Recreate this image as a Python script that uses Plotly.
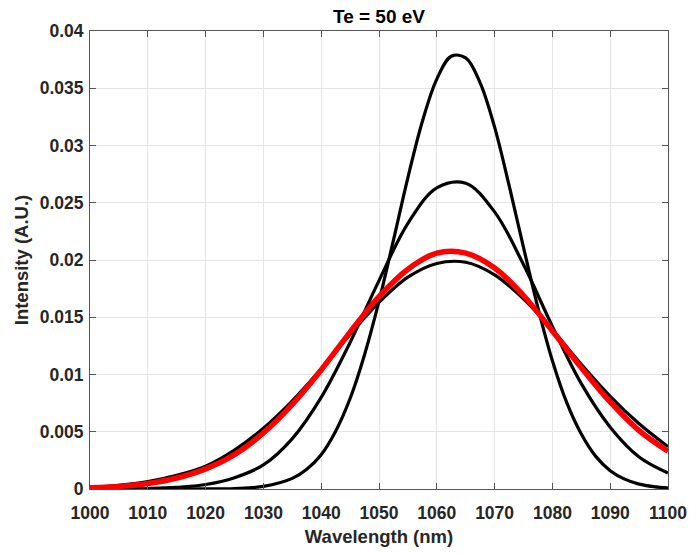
import plotly.graph_objects as go

wavelength = [1000, 1005, 1010, 1015, 1020, 1025, 1030, 1035, 1040, 1045, 1050,
              1055, 1060, 1065, 1070, 1075, 1080, 1085, 1090, 1095, 1100]

wavelength_fine = [1000, 1010, 1020, 1025, 1030, 1035, 1037.5, 1040, 1042.5, 1045, 1047.5,
                   1050, 1052.5, 1055, 1057.5, 1060, 1062.5, 1065, 1067.5, 1070, 1072.5,
                   1075, 1077.5, 1080, 1082.5, 1085, 1087.5, 1090, 1092.5, 1095, 1097.5, 1100]
curve_narrow = [0.0, 0.0, 0.000007, 0.000044, 0.00023, 0.00093, 0.00173, 0.0030, 0.00505, 0.0079, 0.01173,
                0.0164, 0.02173, 0.0272, 0.0321, 0.0358, 0.03779, 0.03766, 0.03547, 0.0316, 0.02653,
                0.0211, 0.01582, 0.0112, 0.00752, 0.0048, 0.00285, 0.0016, 0.00086, 0.00043, 0.00021, 0.00009]

curve_mid = [0.000003, 0.000013, 0.000044, 0.00014, 0.00039, 0.00099, 0.0021, 0.0044, 0.0080, 0.0128, 0.0182,
             0.0232, 0.0263, 0.0267, 0.0242, 0.0196, 0.0142, 0.0092, 0.0054, 0.0028, 0.0014]
curve_wide = [0.00015, 0.00032, 0.00064, 0.00119, 0.0020, 0.0034, 0.0053, 0.0077, 0.0105, 0.0135, 0.0163,
              0.0185, 0.0197, 0.0198, 0.0187, 0.0166, 0.0139, 0.0109, 0.0081, 0.0057, 0.0037]
curve_red = [0.00010, 0.00023, 0.00048, 0.00096, 0.00176, 0.0030, 0.0049, 0.0074, 0.0104, 0.0137, 0.0168,
             0.0192, 0.0206, 0.0206, 0.0193, 0.0169, 0.0138, 0.0106, 0.0076, 0.0051, 0.0033]

x_ticks = [1000, 1010, 1020, 1030, 1040, 1050, 1060, 1070, 1080, 1090, 1100]
y_ticks = [0, 0.005, 0.01, 0.015, 0.02, 0.025, 0.03, 0.035, 0.04]
y_tick_labels = ["0", "0.005", "0.01", "0.015", "0.02", "0.025", "0.03", "0.035", "0.04"]

FONT = "Liberation Sans, Arial, sans-serif"
TXT = "#262626"

fig = go.Figure()
fig.add_trace(go.Scatter(x=wavelength_fine, y=curve_narrow, mode="lines",
                         line=dict(color="black", width=3.2, shape="spline"),
                         showlegend=False, hoverinfo="skip"))
for ys in (curve_mid, curve_wide):
    fig.add_trace(go.Scatter(x=wavelength, y=ys, mode="lines",
                             line=dict(color="black", width=3.2, shape="spline"),
                             showlegend=False, hoverinfo="skip"))
fig.add_trace(go.Scatter(x=wavelength, y=curve_red, mode="lines",
                         line=dict(color="#ff0000", width=5.5, shape="spline"),
                         showlegend=False, hoverinfo="skip"))

axis_common = dict(
    showgrid=True, gridcolor="#e6e6e6", gridwidth=1,
    showline=True, linecolor="#555555", linewidth=1, mirror="ticks",
    ticks="inside", ticklen=6, tickcolor="#555555", tickwidth=1,
    zeroline=False,
    tickfont=dict(family=FONT, size=17.5, color=TXT, weight="bold"),
)

fig.update_layout(
    width=699, height=556,
    margin=dict(l=90, r=23, t=31, b=63),
    paper_bgcolor="white", plot_bgcolor="white",
    title=dict(text="Te = 50 eV", x=0.5, xref="paper", y=0.9712, yref="container",
               xanchor="center", yanchor="middle",
               font=dict(family=FONT, size=19, color="black", weight="bold")),
    xaxis=dict(range=[1000, 1100], tickvals=x_ticks, ticklabelstandoff=8,
               title=dict(text="Wavelength (nm)", standoff=8,
                          font=dict(family=FONT, size=18.5, color=TXT, weight="bold")),
               **axis_common),
    yaxis=dict(range=[0, 0.04], tickvals=y_ticks, ticktext=y_tick_labels, ticklabelstandoff=2,
               title=dict(text="Intensity (A.U.)", standoff=6,
                          font=dict(family=FONT, size=18.5, color=TXT, weight="bold")),
               **axis_common),
)

# remove the default page margin so the figure sits at the window's top-left corner
fig.write_html("out.html",
               config={"displayModeBar": False},
               post_script="document.body.style.margin='0';document.body.style.overflow='hidden';")
